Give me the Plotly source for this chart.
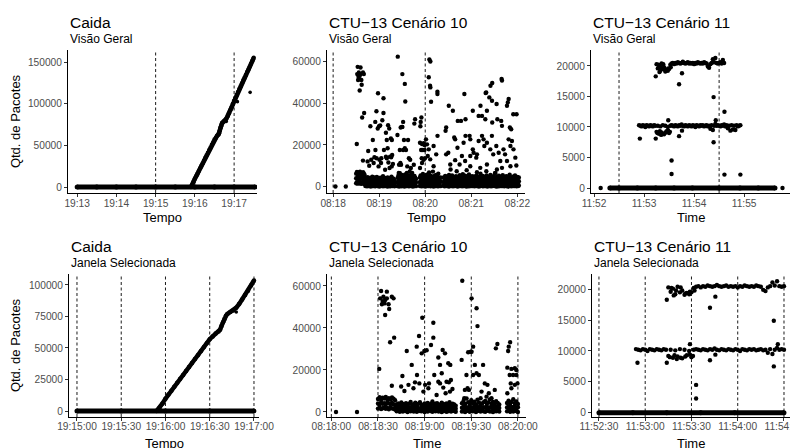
import pandas as pd
import plotly.graph_objects as go

DAY = "2011-08-18"

# ---------------- Caida (seconds after 19:13:00) ----------------
caida_base = "19:13:00"
caida_zero_sec = [0, 30, 60, 90, 120, 150, 180, 210, 240, 272]
caida_zero_val = [0, 0, 0, 0, 0, 0, 0, 0, 0, 0]
caida_rise_sec = [174, 176, 178, 180, 182, 184, 186, 188, 190, 192, 194, 196, 198, 200, 202, 204, 206, 208,
                  210, 212, 214, 216, 217, 218, 219, 220, 221, 222, 224, 226, 228, 230, 232, 234, 236, 238,
                  240, 242, 244, 246, 248, 250, 252, 254, 256, 258, 260, 262, 264, 266, 268, 270]
caida_rise_val = [0, 2500, 6000, 9800, 13000, 16000, 19300, 22400, 25500, 28600, 31800, 35000, 38000, 41200,
                  44300, 47500, 50600, 53800, 57000, 59200, 61500, 63000, 64500, 67500, 70500, 73000, 75500,
                  77000, 78500, 79800, 82000, 85000, 88500, 92000, 95500, 99500, 103500, 107000, 110500,
                  114000, 117500, 121000, 124500, 128000, 131000, 134500, 138000, 141000, 144500, 148000,
                  151500, 155000]
caida_out_sec = [228, 245, 264.5]
caida_out_val = [78600, 102400, 113600]

# ---------------- CTU-13 Cenario 10 (seconds after 08:18:00) ----------------
s10_base = "08:18:00"
s10_pts = [
    (3, 0), (16.5, 0),
    (32, 57600), (35.7, 57300), (31.4, 54100), (33, 52800), (34.2, 51700), (34.6, 53300), (36.8, 51300),
    (37.2, 49000), (34.6, 46200), (35.7, 54100), (33.5, 54900), (32.5, 51300), (38.9, 54900), (40, 54100),
    (37.8, 33200), (40.4, 35400), (30.8, 20500), (38.9, 12500),
    (48.5, 29000), (45.7, 17100), (44.9, 12100), (47, 10000), (49.6, 12900),
    (51.7, 22400), (54.9, 31100), (56.4, 36200), (55.1, 17600), (53.8, 14100), (52.8, 11300), (56.6, 13600),
    (58.5, 44900), (58.1, 27900), (59.8, 29000), (61.3, 29400), (60.3, 12900), (59.2, 9700), (62.4, 11300),
    (65.6, 42500), (64.1, 31900), (65.6, 35400), (62.8, 13600), (66.2, 17600), (67.7, 8100), (68.8, 14400),
    (68.8, 25900), (71.6, 29500), (73.1, 27900), (69.9, 22400), (71, 18400), (69.9, 13600), (72, 11600),
    (75.2, 23200), (76.5, 22400), (74.1, 14400), (75.6, 14100), (76.9, 15200), (73.5, 8900), (76.3, 9700),
    (77.9, 10900), (84.2, 62500),
    (83.8, 24800), (88, 28400), (89.7, 28700), (86.9, 17600), (87.6, 11300), (85.9, 10500), (85.5, 6500),
    (88.5, 10500),
    (90.2, 54100), (93.4, 49400), (94, 40900), (91.2, 31100), (90.2, 28700), (92.3, 22400), (91.2, 17600),
    (93.4, 18400), (94.9, 17600),
    (97.6, 22400), (98.7, 13600), (100.4, 12900), (96.6, 9700), (101.3, 8900), (103, 6500), (99.8, 7300),
    (105.1, 10500), (106.8, 32400), (105.8, 30300),
    (113.7, 29000), (115, 33200), (114.1, 31100), (113.2, 21100), (114.7, 17600), (115.8, 20500), (118, 20800),
    (119, 20000), (116.9, 17600), (118, 12900), (115.4, 13600), (113.2, 8900), (115.8, 11300), (119, 17600),
    (119.7, 13600),
    (125.4, 61100), (126.7, 60200), (124.6, 52600), (126.3, 48500), (126.7, 47700), (127.6, 40800),
    (135.9, 45600), (135.9, 44500),
    (121, 22700), (122.3, 20300), (124.6, 17900), (123.3, 14700), (130.9, 19500), (134.3, 15500), (136, 24400),
    (130.9, 9800), (126.5, 13100),
    (147.3, 28400), (146.5, 26800), (150.7, 38900), (156, 36500), (162.4, 31600), (166.6, 31600), (171, 44500),
    (172.5, 32400), (182, 36500), (192, 38900), (198.7, 45000), (199.5, 45300), (205, 48500), (207.3, 49800),
    (219.5, 51800), (220, 51000), (203.5, 42900), (207, 41300), (200.4, 36500), (213, 39700), (227.6, 40500),
    (228.7, 42100), (226.5, 38900), (194, 34000), (198.3, 32400), (189.6, 34000), (207.3, 30800), (214, 32400),
    (219, 31600), (234.7, 34800), (239, 34800), (230.3, 28400), (232, 27600), (220, 29200),
    (147.3, 15500), (150, 16300), (157.8, 23600), (159, 22700), (162, 18700), (170, 21100), (172.5, 24400),
    (167.8, 14700), (159, 12700), (152.6, 10600), (164.8, 10600), (172, 12300), (177.8, 24400), (178.7, 22700),
    (182, 17900), (183, 16300), (187.4, 15500), (178.7, 14700), (186.5, 13900), (189.6, 21900), (194, 24400),
    (196, 22700), (197, 19500), (200.4, 21100), (206.9, 24400), (204.8, 17900), (208.6, 15500), (212.6, 19500),
    (215.7, 16300), (217.8, 12300), (222, 17900), (224, 15500), (228.7, 22700), (233, 21900), (231, 19500),
    (235, 17900), (237.4, 13900), (226.5, 12300), (178.7, 9800), (191.7, 9000), (200.4, 10600), (213.4, 8200),
    (220, 9000), (231, 9800), (238.7, 10100), (161, 7400), (153, 8200), (174, 7900), (187.4, 6900),
    (199.6, 7400), (211.3, 6600),
]
# dense low band of scenario 10: times with low / middle / high values
s10_band_sec = [
    30, 31, 32, 33, 34, 35, 36, 37, 38, 39, 40, 41,
    42, 43, 44, 45, 46, 47, 48, 49, 50, 51, 52, 53, 54, 55, 56, 57, 58, 59, 60, 61, 62, 63, 64, 65, 66, 67,
    68, 69, 70, 71, 72, 73, 74, 75, 76, 77, 78, 79, 80,
    84, 85, 86, 87, 88, 89, 90, 91, 92, 93, 94, 95, 96, 97, 98, 99, 100, 101, 102, 103, 104, 105, 106, 107, 108,
    113, 114, 115, 116, 117, 118, 119, 120, 121, 122, 123, 124, 125, 126, 127, 128, 129, 130, 131, 132, 133,
    134, 135, 136, 137, 138, 139, 140,
    144, 145, 146, 147, 148, 149, 150, 151, 152, 153, 154, 155, 156, 157, 158, 159, 160, 161, 162, 163, 164,
    165, 166, 167, 168, 169, 170, 171, 172, 173, 174, 175, 176, 177, 178, 179, 180, 181, 182, 183, 184, 185,
    186, 187, 188, 189, 190, 191, 192, 193, 194, 195, 196, 197, 198, 199, 200, 201, 202, 203, 204, 205, 206,
    207, 208, 209, 210, 211, 212, 213, 214, 215, 216, 217, 218, 219, 220, 221, 222, 223, 224, 225, 226, 227,
    228, 229, 230, 231, 232, 233, 234, 235, 236, 237, 238, 239, 240, 241, 242]
s10_band_lo = [
    1600, 2000, 1400, 1800, 2200, 1500, 1900, 1300, 2100, 1700, 1500, 1200,
    300, 600, 100, 500, 200, 700, 400, 0, 600, 300, 800, 200, 500, 100, 700, 400, 300, 600, 0, 500, 200, 800,
    400, 100, 600, 300, 700, 200, 500, 0, 400, 600, 100, 300, 700, 200, 500, 400, 100,
    200, 500, 0, 400, 700, 100, 600, 300, 500, 0, 400, 800, 200, 600, 300, 100, 500, 700, 200, 400, 0, 600,
    300, 500, 200,
    300, 600, 100, 500, 200, 700, 400, 0, 500, 300, 600, 200, 800, 400, 100, 500, 300, 700, 0, 400, 600, 200,
    500, 300, 100, 600, 400, 200,
    400, 100, 600, 300, 700, 200, 500, 0, 400, 800, 300, 600, 100, 500, 200, 700, 400, 600, 0, 300,
    500, 200, 800, 400, 100, 600, 300, 500, 200, 700, 0, 400, 600, 100, 500, 300, 700, 200, 400, 600,
    100, 500, 300, 800, 200, 400, 0, 600, 300, 500, 700, 100, 400, 200, 600, 300, 500, 0, 700, 400,
    200, 600, 100, 500, 300, 800, 400, 200, 600, 0, 300, 500, 100, 700, 400, 200, 600, 300, 500, 100,
    400, 700, 200, 600, 0, 300, 500, 400, 100, 600, 300, 500, 200, 700, 400, 100, 600, 300, 500]
s10_band_mid = [
    4000, 3700, 4400, 3900, 4200, 3600, 4500, 4100, 3800, 4300, 3700, 3300,
    1800, 2200, 1500, 2500, 1900, 1300, 2300, 1700, 2100, 1600, 2400, 1400, 2000, 2600, 1800, 1500, 2200,
    1900, 1300, 2500, 2100, 1700, 2300, 1600, 2000, 2400, 1400, 1900, 2200, 1800, 2500, 1500, 2100, 1700,
    2300, 1600, 2000, 1800, 1500,
    2000, 2500, 1700, 2300, 1900, 2800, 1600, 2200, 2600, 1800, 2400, 2100, 2900, 1700, 2300, 2000, 2600,
    1900, 2200, 2700, 1800, 2400, 2000, 2500, 1900,
    2100, 2600, 1800, 2400, 2000, 2800, 1700, 2300, 2500, 1900, 2700, 2200, 1600, 2400, 2900, 2000, 2300,
    1800, 2600, 2100, 2500, 1900, 2800, 2200, 1700, 2400, 2000, 2300,
    2200, 1700, 2500, 1900, 2300, 2800, 1600, 2100, 2600, 1800, 2400, 2000, 2700, 1700, 2200, 2500, 1900,
    2300, 2900, 1800, 2100, 2600, 1700, 2400, 2000, 2800, 2200, 1900, 2500, 1600, 2300, 2700, 1800, 2100,
    2600, 2000, 2400, 1700, 2900, 2200, 1900, 2500, 2100, 2300, 1800, 2700, 2000, 2400, 1600, 2600, 2200,
    1900, 2800, 2100, 2400, 1700, 2500, 2000, 2300, 2700, 1800, 2200, 2600, 1900, 2400, 2100, 2800, 1700,
    2300, 2500, 2000, 2700, 1900, 2200, 2600, 1800, 2400, 2100, 2900, 2000, 2300, 1700, 2500, 2200, 2700,
    1900, 2400, 2000, 2600, 1800, 2200, 2500, 1900, 2300, 2800, 2100, 2400, 1700, 2600]
s10_band_hi = [
    6200, 7000, 5800, 6800, 6400, 7200, 6000, 6600, 5900, 6900, 6300, 5600,
    3600, 4100, 3200, 4500, 3800, 2900, 4200, 3400, 3900, 4800, 3300, 3700, 4400, 3100, 3900, 4600, 3500,
    3000, 4100, 3700, 4300, 3200, 3800, 5000, 3400, 3900, 4200, 3100, 3600, 4400, 3800, 3300, 4000, 3500,
    4700, 3200, 3900, 3600, 3000,
    4200, 5200, 3800, 6400, 4600, 3900, 5600, 4300, 4900, 3700, 5800, 4400, 6500, 4000, 4700, 5300, 3900,
    4500, 6000, 4100, 4800, 3800, 5100, 4300, 3600,
    4300, 5400, 3900, 4800, 6100, 4200, 5000, 3800, 4600, 5700, 4100, 4900, 6800, 4400, 5200, 3900, 4700,
    7200, 4500, 5100, 4000, 5600, 4300, 4800, 6200, 4100, 3700, 4400,
    4400, 3800, 5100, 4200, 3600, 4900, 4000, 5600, 3900, 4500, 4100, 5300, 3700, 4600, 4300, 3900, 5000,
    4200, 3600, 4800, 4000, 5500, 4300, 3800, 4700, 6000, 4100, 3900, 5200, 4400, 3700, 4600, 4100, 5800,
    4000, 4400, 3800, 5000, 4300, 3900, 4900, 4200, 3600, 5400, 4100, 4500, 3800, 4700, 6200, 4000, 4300,
    5100, 3900, 4600, 4200, 3700, 5300, 4400, 4000, 4800, 3800, 5600, 4100, 4500, 3900, 5000, 4300, 6400,
    4000, 4600, 4200, 3800, 5200, 4400, 4000, 4700, 3900, 5500, 4300, 4100, 4800, 3700, 5000, 4200, 4600,
    3900, 5700, 4100, 4400, 3800, 4500, 4900, 4000, 5300, 4200, 3700, 4600, 4100, 4400]

# ---------------- CTU-13 Cenario 11 (seconds after 11:52:00) ----------------
s11_base = "11:52:00"
s11_zero_sec = [19, 30, 52, 74, 96, 118, 150, 175, 197, 217]
s11_zero_val = [0, 0, 0, 0, 0, 0, 0, 0, 0, 0]
s11_b10_sec = [54, 55.5, 57, 58.5, 60, 61.5, 63, 64.5, 66, 67.5, 69, 70.5, 72, 73.5, 75, 76.5, 78, 79.5, 81,
               82.5, 84, 85.5, 87, 88.5, 90, 91.5, 93, 94.5, 96, 97.5, 99, 100.5, 102, 103.5, 105, 106.5, 108,
               109.5, 111, 112.5, 114, 115.5, 117, 118.5, 120, 121.5, 123, 124.5, 126, 127.5, 129, 130.5, 132,
               133.5, 135, 136.5, 138, 139.5, 141, 142.5, 144, 145.5, 147, 148.5, 150, 151.5, 153, 154.5, 156,
               157.5, 159, 160.5, 162, 163.5, 165, 166.5, 168, 169.5, 171, 172.5, 174, 175.5]
s11_b10_val = [10300, 10200, 10100, 10300, 10200, 10000, 10300, 10200, 10100, 10300,
               10200, 10100, 10300, 10200, 9200, 10200, 8900, 10100, 9100, 10300,
               8800, 10200, 9300, 10000, 9000, 10200, 10300, 10200, 10100, 10300,
               10200, 10100, 10300, 10200, 10400, 10200, 10100, 10300, 10200, 10100,
               10300, 10200, 10100, 10300, 10200, 10000, 10300, 10200, 10100, 10300,
               10200, 10300, 10100, 10200, 10300, 10100, 10200, 9700, 10300, 9500,
               10200, 10500, 10200, 10300, 10200, 10100, 10300, 10200, 10400, 10100,
               10300, 9800, 10200, 9400, 10300, 9600, 10200, 9500, 10300, 10100,
               10200, 10300]
s11_b20_sec = [75, 76.5, 78, 79.5, 81, 82.5, 84, 85.5, 87, 88.5, 90, 91.5, 93, 94.5, 96, 97.5, 99, 100.5, 102,
               103.5, 105, 106.5, 108, 109.5, 111, 112.5, 114, 115.5, 117, 118.5, 120, 121.5, 123, 124.5, 126,
               127.5, 129, 130.5, 132, 133.5, 135, 136.5, 138, 139.5, 141, 142.5, 144, 145.5, 147, 148.5, 150,
               151.5, 153, 154.5, 156]
s11_b20_val = [20300, 19600, 20100, 19200, 20400, 19500, 19800, 19100, 19400, 19200,
               19500, 20200, 20400, 20500, 20300, 20500, 20400, 20600, 20500, 20400,
               20500, 20700, 20500, 20400, 20500, 20600, 20400, 20500, 20400, 20500,
               20300, 20500, 20400, 20600, 20500, 20400, 20500, 20400, 20600, 20500,
               20400, 19900, 19700, 20300, 20500, 21100, 20600, 21300, 20500, 20400,
               20500, 20600, 20400, 21000, 20500]
s11_pts_sec = [8, 226, 55, 74, 74, 89, 93, 93, 102, 102, 105.5, 105.5, 143.4, 143.4, 146, 156.4, 156.4, 175.5,
               76, 79, 83, 86, 89, 91, 80.5, 77, 80, 83, 86, 89, 92, 78.5]
s11_pts_val = [0, 0, 8100, 8100, 18300, 11100, 4500, 2300, 17000, 8500, 18800, 9400, 14900, 7500, 11100, 12500,
               2200, 2200, 9000, 9300, 8900, 9100, 9400, 9200, 8700, 20200, 19800, 20300, 19300, 19600, 19800,
               19000]

# ---------------- panel texts, ticks, windows ----------------
titles = ["Caida", "CTU\u221213 Cen\u00e1rio 10", "CTU\u221213 Cen\u00e1rio 11"] * 2
subtitles = ["Vis\u00e3o Geral"] * 3 + ["Janela Selecionada"] * 3
xtitles = ["Tempo", "Tempo", "Time", "Tempo", "Time", "Time"]
ytitle = "Qtd. de Pacotes"
xticks = [
    ["19:13", "19:14", "19:15", "19:16", "19:17"],
    ["08:18", "08:19", "08:20", "08:21", "08:22"],
    ["11:52", "11:53", "11:54", "11:55"],
    ["19:15:00", "19:15:30", "19:16:00", "19:16:30", "19:17:00"],
    ["08:18:00", "08:18:30", "08:19:00", "08:19:30", "08:20:00"],
    ["11:52:30", "11:53:00", "11:53:30", "11:54:00", "11:54:30"],
]
yticks = [
    [0, 50000, 100000, 150000],
    [0, 20000, 40000, 60000],
    [0, 5000, 10000, 15000, 20000],
    [0, 25000, 50000, 75000, 100000],
    [0, 20000, 40000, 60000],
    [0, 5000, 10000, 15000, 20000],
]
vlines = [
    ["19:15:00", "19:17:00"],
    ["08:18:00", "08:20:00"],
    ["11:52:30", "11:54:30"],
    xticks[3], xticks[4], xticks[5],
]
windows = {0: None, 1: None, 2: None,
           3: ("19:15:00", "19:17:00"), 4: ("08:18:00", "08:20:00"), 5: ("11:52:30", "11:54:30")}
xranges = [
    ("19:12:46", "19:17:35"), ("08:17:52", "08:22:10"), ("11:51:56.4", "11:55:55"),
    ("19:14:54.6", "19:17:03.4"), ("08:17:57.2", "08:20:05.2"), ("11:52:25.5", "11:54:33.9"),
]
yranges = [(-7200, 164400), (-3100, 65700), (-820, 22620),
           (-4760, 108700), (-2400, 65700), (-700, 22470)]

# ---------------- layout geometry (window pixels) ----------------
# the page body keeps its default 8px margin, so the figure is 8px smaller and shifted
OFF = 8
W, H = 798 - OFF, 448 - OFF
xdom_px = [(68, 257), (327, 525), (591, 790), (69, 259), (327, 526), (592, 790)]
ydom_px = [(50, 193)] * 3 + [(274, 417)] * 3
title_y_px = [22, 22, 22, 246, 246, 246]
sub_y_px = [39, 39, 39, 263, 263, 263]
xtitle_y_px = [217, 217, 217, 443, 443, 443]
label_shift = [-2, -2, -2, -3, -3, -3]


def PX(px):
    return (px - OFF) / W


def PY(py):
    return 1 - (py - OFF) / H


FONT = "Liberation Sans, Arial, Helvetica, sans-serif"

try:
    go.layout.XAxis(ticklabelstandoff=-2)
    STANDOFF_OK = True
except Exception:
    STANDOFF_OK = False


def T(hms):
    return pd.Timestamp(f"{DAY} {hms}")


def xname(i):
    return "x" if i == 0 else f"x{i + 1}"


def yname(i):
    return "y" if i == 0 else f"y{i + 1}"


def series(base, secs, vals, win):
    b = T(base)
    xs, ys = [], []
    for s, v in zip(secs, vals):
        t = b + pd.Timedelta(seconds=float(s))
        if win is None or (T(win[0]) <= t <= T(win[1])):
            xs.append(t)
            ys.append(v)
    return xs, ys


fig = go.Figure()


def add_points(i, xs, ys, size):
    fig.add_trace(go.Scatter(x=xs, y=ys, mode="markers", marker=dict(size=size, color="black", line=dict(width=0)),
                             xaxis=xname(i), yaxis=yname(i), hoverinfo="x+y", showlegend=False))


def add_dense(i, xs, ys, width):
    fig.add_trace(go.Scatter(x=xs, y=ys, mode="lines+markers", line=dict(color="black", width=width),
                             marker=dict(size=width, color="black", line=dict(width=0)),
                             xaxis=xname(i), yaxis=yname(i), hoverinfo="x+y", showlegend=False))


s10_sec = [p[0] for p in s10_pts]
s10_val = [p[1] for p in s10_pts]
band_sec3 = s10_band_sec * 3
band_val3 = s10_band_lo + s10_band_mid + s10_band_hi

for i in range(6):
    win = windows[i]
    kind = i % 3
    if kind == 0:
        add_dense(i, *series(caida_base, caida_zero_sec, caida_zero_val, win), 5)
        add_dense(i, *series(caida_base, caida_rise_sec, caida_rise_val, win), 4.5)
        add_points(i, *series(caida_base, caida_out_sec, caida_out_val, win), 3.6)
    elif kind == 1:
        add_points(i, *series(s10_base, band_sec3, band_val3, win), 4.4)
        add_points(i, *series(s10_base, s10_sec, s10_val, win), 4.4)
    else:
        add_dense(i, *series(s11_base, s11_zero_sec, s11_zero_val, win), 5)
        add_points(i, *series(s11_base, s11_b10_sec, s11_b10_val, win), 4.4)
        add_points(i, *series(s11_base, s11_b20_sec, s11_b20_val, win), 4.4)
        add_points(i, *series(s11_base, s11_pts_sec, s11_pts_val, win), 4.4)

layout = dict(width=W, height=H, autosize=False, margin=dict(l=0, r=0, t=0, b=0),
              paper_bgcolor="white", plot_bgcolor="white", showlegend=False,
              font=dict(family=FONT, color="black"))
shapes, annotations = [], []
for i in range(6):
    xk = "xaxis" if i == 0 else f"xaxis{i + 1}"
    yk = "yaxis" if i == 0 else f"yaxis{i + 1}"
    common = dict(showline=True, linecolor="black", linewidth=1.1, ticks="outside", ticklen=3, tickwidth=1.1,
                  tickcolor="#333333", showgrid=False, zeroline=False, automargin=False,
                  tickfont=dict(family=FONT, size=10.2, color="#4D4D4D"))
    x0, x1 = xdom_px[i]
    y0, y1 = ydom_px[i]
    xdict = dict(common, type="date", domain=[PX(x0), PX(x1)], anchor=yname(i),
                 range=[T(xranges[i][0]), T(xranges[i][1])],
                 tickvals=[T(t) for t in xticks[i]], ticktext=xticks[i], ticklabeloverflow="allow")
    if STANDOFF_OK:
        xdict["ticklabelstandoff"] = label_shift[i]
    layout[xk] = xdict
    ydict = dict(common, domain=[PY(y1), PY(y0)], anchor=xname(i), range=list(yranges[i]),
                 tickvals=yticks[i], ticktext=[str(v) for v in yticks[i]])
    if i in (0, 3):
        ydict["title"] = dict(text=ytitle, font=dict(family=FONT, size=13, color="black"), standoff=5)
    layout[yk] = ydict
    for t in vlines[i]:
        shapes.append(dict(type="line", xref=xname(i), yref=yname(i) + " domain", x0=T(t), x1=T(t), y0=0, y1=1,
                           line=dict(color="black", width=0.9, dash="3px,2.5px"), layer="above"))
    annotations.append(dict(text=titles[i], xref="paper", yref="paper", x=PX(x0), y=PY(title_y_px[i]),
                            xanchor="left", yanchor="middle", showarrow=False,
                            font=dict(family=FONT, size=15.5, color="black")))
    annotations.append(dict(text=subtitles[i], xref="paper", yref="paper", x=PX(x0), y=PY(sub_y_px[i]),
                            xanchor="left", yanchor="middle", showarrow=False,
                            font=dict(family=FONT, size=12, color="black")))
    annotations.append(dict(text=xtitles[i], xref="paper", yref="paper", x=PX((x0 + x1) / 2),
                            y=PY(xtitle_y_px[i]), xanchor="center", yanchor="middle", showarrow=False,
                            font=dict(family=FONT, size=13, color="black")))
layout["shapes"] = shapes
layout["annotations"] = annotations
fig.update_layout(**layout)
fig.write_html("out.html")
